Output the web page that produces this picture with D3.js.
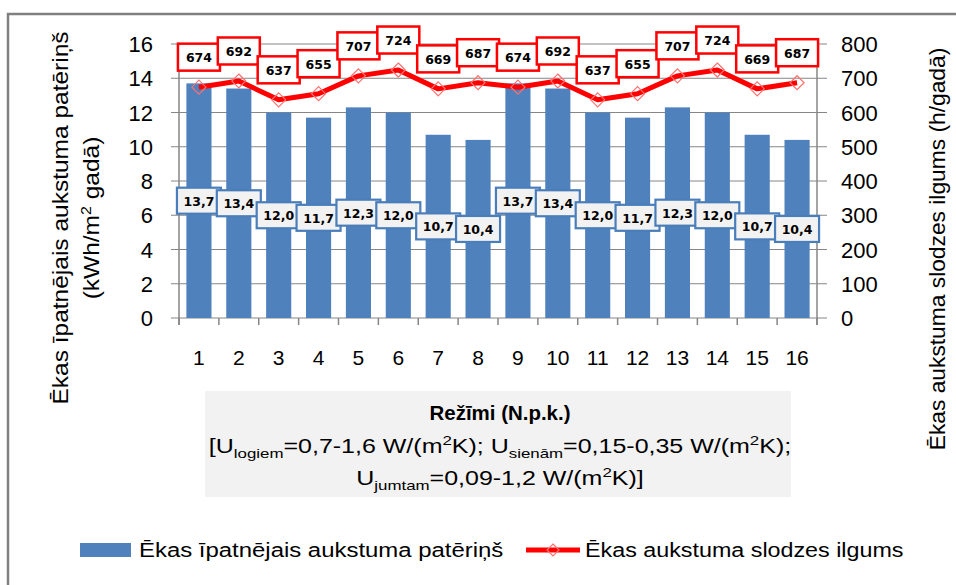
<!DOCTYPE html>
<html><head><meta charset="utf-8">
<script src="https://cdn.jsdelivr.net/npm/d3@7"></script>
<style>body{margin:0;background:#fff}svg{display:block}</style>
</head><body>
<script>
const categories = ["1","2","3","4","5","6","7","8","9","10","11","12","13","14","15","16"];
const consumption = [13.7,13.4,12.0,11.7,12.3,12.0,10.7,10.4,13.7,13.4,12.0,11.7,12.3,12.0,10.7,10.4];
const duration = [674,692,637,655,707,724,669,687,674,692,637,655,707,724,669,687];
const leftTicks = [0,2,4,6,8,10,12,14,16];
const rightTicks = [0,100,200,300,400,500,600,700,800];

const W = 956, H = 585;
const svg = d3.select("body").append("svg").attr("width", W).attr("height", H);
const font = "'Liberation Sans', Arial, sans-serif";
const gridC = "#868686";

// outer frame
svg.append("rect").attr("x",8).attr("y",14).attr("width",980).attr("height",620)
  .attr("fill","none").attr("stroke","#808080").attr("stroke-width",2.5);

const L = 179, R = 817, T = 44, B = 318;
const x = d3.scaleBand().domain(categories).range([L,R]).paddingInner(0.37).paddingOuter(0.185);
const yL = d3.scaleLinear().domain([0,16]).range([B,T]);
const yR = d3.scaleLinear().domain([0,800]).range([B,T]);
const step = x.step();

// gridlines
svg.append("g").selectAll("line").data(leftTicks).join("line")
  .attr("x1",L-8).attr("x2",R+10).attr("y1",d=>yL(d)).attr("y2",d=>yL(d))
  .attr("stroke",gridC).attr("stroke-width",1);
svg.append("line").attr("x1",L).attr("x2",L).attr("y1",T).attr("y2",B+7).attr("stroke",gridC).attr("stroke-width",1.5);
svg.append("line").attr("x1",R).attr("x2",R).attr("y1",T).attr("y2",B+7).attr("stroke",gridC).attr("stroke-width",1.5);
const bounds = d3.range(categories.length+1).map(i => L + i*step);
svg.append("g").selectAll("line").data(bounds).join("line")
  .attr("x1",d=>d).attr("x2",d=>d).attr("y1",B).attr("y2",B+7)
  .attr("stroke",gridC).attr("stroke-width",1.5);

// tick labels
svg.append("g").selectAll("text").data(leftTicks).join("text")
  .attr("x",153).attr("y",d=>yL(d)+8).attr("text-anchor","end")
  .attr("font-family",font).attr("font-size",22).attr("fill","#000").text(d=>d);
svg.append("g").selectAll("text").data(rightTicks).join("text")
  .attr("x",841).attr("y",d=>yR(d)+8).attr("text-anchor","start")
  .attr("font-family",font).attr("font-size",22).attr("fill","#000").text(d=>d);
svg.append("g").selectAll("text").data(categories).join("text")
  .attr("x",d=>x(d)+x.bandwidth()/2).attr("y",365).attr("text-anchor","middle")
  .attr("font-family",font).attr("font-size",21).attr("fill","#000").text(d=>d);

// bars
svg.append("g").selectAll("rect").data(consumption).join("rect")
  .attr("x",(d,i)=>x(categories[i])).attr("width",x.bandwidth())
  .attr("y",d=>yL(d)).attr("height",d=>B-yL(d)).attr("fill","#4f81bd");

// line
const cx = i => x(categories[i]) + x.bandwidth()/2;
svg.append("path").datum(duration)
  .attr("d", d3.line().x((d,i)=>cx(i)).y(d=>yR(d)))
  .attr("fill","none").attr("stroke","#ff0000").attr("stroke-width",5).attr("stroke-linejoin","round");
svg.append("g").selectAll("path").data(duration).join("path")
  .attr("transform",(d,i)=>`translate(${cx(i)},${yR(d)})`)
  .attr("d","M0,-7L7,0L0,7L-7,0Z")
  .attr("fill","none").attr("stroke","#ff7070").attr("stroke-width",1.2);

// red labels
const lg = svg.append("g").selectAll("g").data(duration).join("g")
  .attr("transform",(d,i)=>`translate(${cx(i)},${yR(d)-30})`);
lg.append("rect").attr("x",-21).attr("y",-13.5).attr("width",42).attr("height",27)
  .attr("fill","#fff").attr("stroke","#ff0000").attr("stroke-width",2.5);
lg.append("text").attr("y",5).attr("text-anchor","middle")
  .attr("font-family","'DejaVu Sans', sans-serif").attr("font-weight","bold").attr("font-size",12.5)
  .attr("fill","#000").text(d=>d);

// blue labels
const bg = svg.append("g").selectAll("g").data(consumption).join("g")
  .attr("transform",(d,i)=>`translate(${cx(i)},${yL(d/2)})`);
bg.append("rect").attr("x",-22).attr("y",-13).attr("width",44).attr("height",26)
  .attr("fill","#f2f2f2").attr("stroke","#4a7ebb").attr("stroke-width",2.2);
bg.append("text").attr("y",5).attr("text-anchor","middle")
  .attr("font-family","'DejaVu Sans', sans-serif").attr("font-weight","bold").attr("font-size",12.5)
  .attr("fill","#000").text(d=>d3.format(".1f")(d).replace(".",","));

// left axis title
const lt = svg.append("text").attr("transform","translate(68,218) rotate(-90) scale(1.14,1)")
  .attr("text-anchor","middle").attr("font-family",font).attr("font-size",21.5).attr("fill","#000");
lt.append("tspan").attr("x",0).attr("y",0).text("Ēkas īpatnējais aukstuma patēriņš");
lt.append("tspan").attr("x",0).attr("y",31).text("(kWh/m");
lt.append("tspan").attr("font-size",14).attr("dy",-8).text("2");
lt.append("tspan").attr("dy",8).text(" gadā)");

// right axis title
svg.append("text").attr("transform","translate(945,249) rotate(-90) scale(1.06,1)")
  .attr("text-anchor","middle").attr("font-family",font).attr("font-size",21.5).attr("fill","#000")
  .text("Ēkas aukstuma slodzes ilgums (h/gadā)");

// x title box
svg.append("rect").attr("x",205).attr("y",391).attr("width",586).attr("height",106).attr("fill","#f2f2f2");
const cxT = 500;
svg.append("text").attr("transform",`translate(${cxT},420) scale(1.05,1)`).attr("text-anchor","middle")
  .attr("font-family",font).attr("font-weight","bold").attr("font-size",19.5).attr("fill","#000")
  .text("Režīmi (N.p.k.)");
const t2 = svg.append("text").attr("transform",`translate(${cxT},453) scale(1.25,1)`).attr("text-anchor","middle")
  .attr("font-family",font).attr("font-size",20).attr("fill","#000");
function sub(t,s){ t.append("tspan").attr("font-size",13.5).attr("dy",5).text(s); }
function sup(t,s){ t.append("tspan").attr("font-size",13.5).attr("dy",-8).text(s); }
t2.append("tspan").text("[U"); sub(t2,"logiem");
t2.append("tspan").attr("dy",-5).text("=0,7-1,6 W/(m"); sup(t2,"2");
t2.append("tspan").attr("dy",8).text("K); U"); sub(t2,"sienām");
t2.append("tspan").attr("dy",-5).text("=0,15-0,35 W/(m"); sup(t2,"2");
t2.append("tspan").attr("dy",8).text("K);");
const t3 = svg.append("text").attr("transform",`translate(${cxT},485) scale(1.25,1)`).attr("text-anchor","middle")
  .attr("font-family",font).attr("font-size",20).attr("fill","#000");
t3.append("tspan").text("U"); sub(t3,"jumtam");
t3.append("tspan").attr("dy",-5).text("=0,09-1,2 W/(m"); sup(t3,"2");
t3.append("tspan").attr("dy",8).text("K)]");

// legend
svg.append("rect").attr("x",80).attr("y",543).attr("width",51).attr("height",14).attr("fill","#4f81bd");
svg.append("text").attr("transform","translate(139,557) scale(1.14,1)").attr("font-family",font).attr("font-size",21).attr("fill","#000")
  .text("Ēkas īpatnējais aukstuma patēriņš");
svg.append("line").attr("x1",526).attr("x2",580).attr("y1",550).attr("y2",550).attr("stroke","#ff0000").attr("stroke-width",5);
svg.append("path").attr("transform","translate(553,550)").attr("d","M0,-6L6,0L0,6L-6,0Z")
  .attr("fill","none").attr("stroke","#ff7070").attr("stroke-width",1.2);
svg.append("text").attr("transform","translate(585,557) scale(1.11,1)").attr("font-family",font).attr("font-size",21).attr("fill","#000")
  .text("Ēkas aukstuma slodzes ilgums");
</script>
</body></html>
